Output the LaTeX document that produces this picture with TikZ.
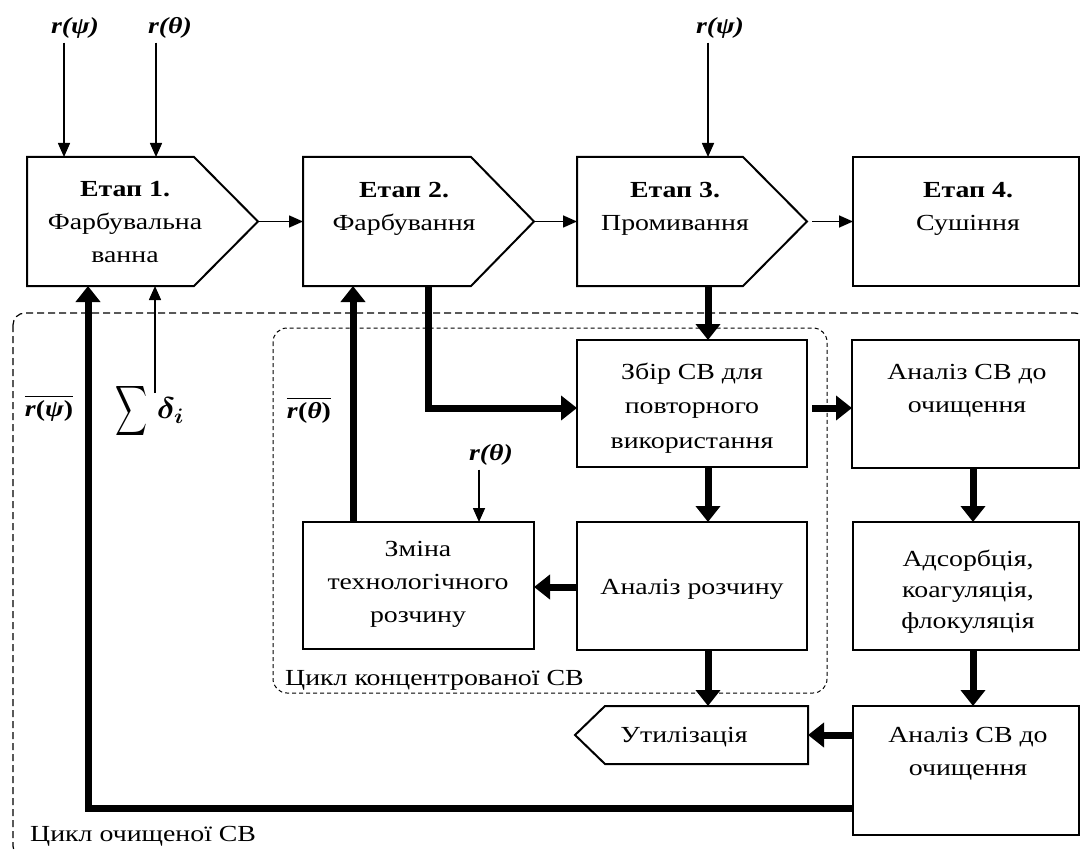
\RequirePackage{fix-cm}
\documentclass[tikz,border=0pt]{standalone}
\usepackage{amsmath,bm,graphicx}
\usepackage{fontspec}
\setmainfont[FakeStretch=1.21]{Liberation Serif}
\usetikzlibrary{arrows.meta,calc}
\tikzset{
  boxline/.style={draw=black, line width=2pt, line join=miter},
  area/.style={draw=none, inner sep=0pt, outer sep=0pt},
  rectbox/.style={boxline, inner sep=0pt, outer sep=0pt},
  txt/.style={font=\fontsize{23}{33}\selectfont, align=center, anchor=north, inner sep=0pt},
  lbl/.style={font=\fontsize{23}{28}\selectfont, inner sep=0pt},
  rl/.style={font=\fontsize{23}{28}\selectfont\bfseries\itshape, inner sep=0pt},
  thinarr/.style={line width=1.6pt, -{Triangle[length=14pt,width=12pt]}},
  thickarr/.style={line width=7pt, line join=miter, -{Triangle[length=16pt,width=24pt]}},
  outerframe/.style={line width=1.2pt, dash pattern=on 7pt off 4pt, rounded corners=12pt},
  innerframe/.style={line width=1pt, dash pattern=on 4pt off 3pt, rounded corners=14pt}
}
\begin{document}
\begin{tikzpicture}[x=1pt,y=-1pt]
\useasboundingbox (0,0) rectangle (1081,850);
\clip (0,0) rectangle (1081,850);

% dashed frames
\draw[outerframe] (13,313) rectangle (1087,858);
\draw[innerframe] (273,328) rectangle (827,693);

% stage shapes
\node[area, minimum width=231pt, minimum height=129pt] (s1) at (142.5,221.5) {};
\draw[boxline] (s1.north west) -- ++(167,0) -- (s1.east) -- ($(s1.south west)+(167,0)$) -- (s1.south west) -- cycle;
\node[area, minimum width=231pt, minimum height=129pt] (s2) at (418.5,221.5) {};
\draw[boxline] (s2.north west) -- ++(168,0) -- (s2.east) -- ($(s2.south west)+(168,0)$) -- (s2.south west) -- cycle;
\node[area, minimum width=230pt, minimum height=129pt] (s3) at (692,221.5) {};
\draw[boxline] (s3.north west) -- ++(166,0) -- (s3.east) -- ($(s3.south west)+(166,0)$) -- (s3.south west) -- cycle;
\node[rectbox, minimum width=226pt, minimum height=129pt] (s4) at (966,221.5) {};

% process boxes
\node[rectbox, minimum width=230pt, minimum height=127pt] (zbir) at (692,403.5) {};
\node[rectbox, minimum width=227pt, minimum height=128pt] (asv1) at (965.5,404) {};
\node[rectbox, minimum width=230pt, minimum height=128pt] (rozch) at (692,586) {};
\node[rectbox, minimum width=226pt, minimum height=128pt] (ads) at (966,586) {};
\node[rectbox, minimum width=231pt, minimum height=127pt] (zmina) at (418.5,585.5) {};
\node[rectbox, minimum width=226pt, minimum height=129pt] (asv2) at (966,770.5) {};
\node[area, minimum width=233pt, minimum height=58pt] (util) at (691.5,735) {};
\draw[boxline] (util.west) -- ($(util.north west)+(30,0)$) -- (util.north east) -- (util.south east) -- ($(util.south west)+(30,0)$) -- cycle;

% texts
\node[txt] (s1t) at (125,181.5) {\textbf{Етап 1.}\\Фарбувальна\\ванна};
\node[txt] (s2t) at (404,182) {\textbf{Етап 2.}\\Фарбування};
\node[txt] (s3t) at (675,182) {\textbf{Етап 3.}\\Промивання};
\node[txt] (s4t) at (968,182) {\textbf{Етап 4.}\\Сушіння};
\node[txt, font=\fontsize{23}{34.5}\selectfont] (zbirt) at (692,362.5) {Збір СВ для\\повторного\\використання};
\node[txt] (asv1t) at (967,364.5) {Аналіз СВ до\\очищення};
\node[txt] (rozcht) at (692,579.5) {Аналіз розчину};
\node[txt, font=\fontsize{23}{31}\selectfont] (adst) at (968,550) {Адсорбція,\\коагуляція,\\флокуляція};
\node[txt] (zminat) at (418,541.5) {Зміна\\технологічного\\розчину};
\node[txt] (utilt) at (684,727.5) {Утилізація};
\node[txt] (asv2t) at (968,727.5) {Аналіз СВ до\\очищення};
\node[lbl, anchor=base west] (conc) at (285,685) {Цикл концентрованої СВ};
\node[lbl, anchor=base west] (clean) at (30,841) {Цикл очищеної СВ};

% input labels
\node[rl] (rpsi1) at (75,28) {r(ψ)};
\node[rl] (rth1) at (170,28) {r(θ)};
\node[rl] (rpsi3) at (720,28) {r(ψ)};
\node[rl] (rth2) at (491,455) {r(θ)};
\node[lbl] (rpsib) at (49,408) {$\overline{\mbox{\textbf{\textit{r}}\textbf{(}\textbf{\textit{ψ}}\textbf{)}}}$};
\node[lbl] (rthb) at (309,410) {$\overline{\mbox{\textbf{\textit{r}}\textbf{(}\textbf{\textit{θ}}\textbf{)}}}$};
\node[lbl, font=\fontsize{30}{34}\selectfont] (sum) at (150,411) {$\vcenter{\hbox{\resizebox*{32pt}{56pt}{$\displaystyle\sum$}}}\hspace{9pt}\mbox{\scalebox{1.1}[1]{$\bm{\delta}_{\bm{i}}$}}$};

% thin arrows
\draw[thinarr] ([xshift=-11pt,yshift=-4pt]rpsi1.south) -- ([xshift=-11pt]rpsi1.south |- s1.north);
\draw[thinarr] ([xshift=-14pt,yshift=-4pt]rth1.south) -- ([xshift=-14pt]rth1.south |- s1.north);
\draw[thinarr] ([xshift=-12pt,yshift=-4pt]rpsi3.south) -- ([xshift=-12pt]rpsi3.south |- s3.north);
\draw[thinarr] ([xshift=-12pt,yshift=-4pt]rth2.south) -- ([xshift=-12pt]rth2.south |- zmina.north);
\coordinate (sumtop) at (155,393);
\draw[thinarr] (sumtop) -- (sumtop |- s1.south);
\draw[thinarr] (s1.east) -- (s2.west);
\draw[thinarr] (s2.east) -- (s3.west);
\draw[thinarr] ([xshift=5pt]s3.east) -- (s4.west);

% thick arrows
\coordinate (loopc) at (88,808);
\draw[thickarr] (asv2.west |- loopc) -- (loopc) -- (loopc |- s1.south);
\coordinate (c2) at (428,408);
\draw[thickarr] (c2 |- s2.south) -- (c2) -- (c2 -| zbir.west);
\coordinate (c3) at (353,0);
\draw[thickarr] (c3 |- zmina.north) -- (c3 |- s2.south);
\coordinate (mc) at (708,0);
\draw[thickarr] (mc |- s3.south) -- (mc |- zbir.north);
\draw[thickarr] (mc |- zbir.south) -- (mc |- rozch.north);
\draw[thickarr] (mc |- rozch.south) -- (mc |- util.north);
\coordinate (r1) at (0,408);
\draw[thickarr] ([xshift=5pt]zbir.east |- r1) -- (asv1.west |- r1);
\coordinate (rc) at (973,0);
\draw[thickarr] (rc |- asv1.south) -- (rc |- ads.north);
\draw[thickarr] (rc |- ads.south) -- (rc |- asv2.north);
\coordinate (r2) at (0,587);
\draw[thickarr] (rozch.west |- r2) -- (zmina.east |- r2);
\draw[thickarr] (asv2.west |- util.east) -- (util.east);
\end{tikzpicture}
\end{document}
